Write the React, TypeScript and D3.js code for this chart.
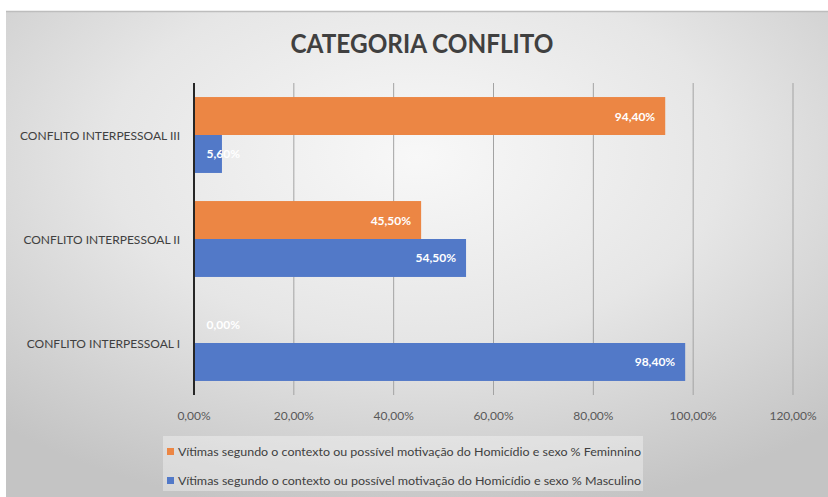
import React from 'react';
import * as d3 from 'd3';

// categories from top to bottom, as shown
const categories = ['CONFLITO INTERPESSOAL III', 'CONFLITO INTERPESSOAL II', 'CONFLITO INTERPESSOAL I'];
const seriesNames = [
  'Vítimas segundo o contexto ou possível motivação do Homicídio e sexo % Feminnino',
  'Vítimas segundo o contexto ou possível motivação do Homicídio e sexo % Masculino',
];
const feminino = [0.944, 0.455, 0.0];
const masculino = [0.056, 0.545, 0.984];
const xTicks = [0, 0.2, 0.4, 0.6, 0.8, 1.0, 1.2];

const colours = ['#EC8644', '#5279C8'];
const font = 'Lato, "Open Sans", sans-serif';

const fmt = (v: number) => (v * 100).toFixed(2).replace('.', ',') + '%';

export default function App() {
  const width = 828;
  const height = 497;

  const x = d3.scaleLinear().domain([0, 1.2]).range([194, 793]);
  const y = d3.scaleBand().domain(categories).range([83, 395]).paddingInner(0.27).paddingOuter(0.135);
  const ySub = d3.scaleBand().domain(['f', 'm']).range([0, y.bandwidth()]);

  const bars = categories.flatMap((c, i) => [
    { cat: c, key: 'f', value: feminino[i], colour: colours[0] },
    { cat: c, key: 'm', value: masculino[i], colour: colours[1] },
  ]);

  return (
    <div style={{ position: 'absolute', left: 0, top: 0 }}>
      <svg width={width} height={height} style={{ display: 'block', fontFamily: font }}>
        <defs>
          <radialGradient id="bg" cx="0.5" cy="0.3" r="0.75">
            <stop offset="0" stopColor="#f8f8f8" />
            <stop offset="0.5" stopColor="#e6e6e6" />
            <stop offset="1" stopColor="#c4c4c4" />
          </radialGradient>
        </defs>
        <rect x={0} y={0} width={width} height={height} fill="#ffffff" />
        <rect x={6} y={11} width={width - 6} height={height - 11} fill="url(#bg)" />
        <line x1={6} x2={width} y1={11.5} y2={11.5} stroke="#bdbdbd" strokeWidth={1.5} />

        <text x={422} y={43} textAnchor="middle" dominantBaseline="central" fontWeight="bold"
          fontSize={26} fill="#404040" textLength={263} lengthAdjust="spacingAndGlyphs">
          CATEGORIA CONFLITO
        </text>

        {xTicks.slice(1).map(t => (
          <line key={t} x1={x(t)} x2={x(t)} y1={83} y2={395} stroke="#a3a3a3" strokeWidth={1} />
        ))}

        {bars.map(b => (
          <rect key={b.cat + b.key} x={x(0)} y={(y(b.cat) as number) + (ySub(b.key) as number)}
            width={x(b.value) - x(0)} height={ySub.bandwidth()} fill={b.colour} />
        ))}

        {bars.map(b => (
          <text key={'l' + b.cat + b.key} x={Math.max(x(b.value) - 10, x(0) + 46)}
            y={(y(b.cat) as number) + (ySub(b.key) as number) + ySub.bandwidth() / 2}
            textAnchor="end" dominantBaseline="central" fontSize={12} fontWeight="bold" fill="#ffffff">
            {fmt(b.value)}
          </text>
        ))}

        <line x1={x(0)} x2={x(0)} y1={83} y2={395} stroke="#262626" strokeWidth={2} />

        {xTicks.map(t => (
          <text key={'t' + t} x={x(t)} y={415} textAnchor="middle" dominantBaseline="central"
            fontSize={12} fill="#595959">
            {fmt(t)}
          </text>
        ))}

        {categories.map(c => (
          <text key={c} x={180} y={(y(c) as number) + y.bandwidth() / 2} textAnchor="end"
            dominantBaseline="central" fontSize={12} fill="#404040">
            {c}
          </text>
        ))}

        <rect x={163} y={436} width={480} height={55} fill="#ffffff" fillOpacity={0.35} />
        {seriesNames.map((s, i) => (
          <g key={s}>
            <rect x={167} y={448 + i * 29} width={7} height={7} fill={colours[i]} />
            <text x={178} y={451.5 + i * 29} dominantBaseline="central" fontSize={11.5} fill="#404040"
              textLength={463} lengthAdjust="spacingAndGlyphs">
              {s}
            </text>
          </g>
        ))}
      </svg>
    </div>
  );
}
